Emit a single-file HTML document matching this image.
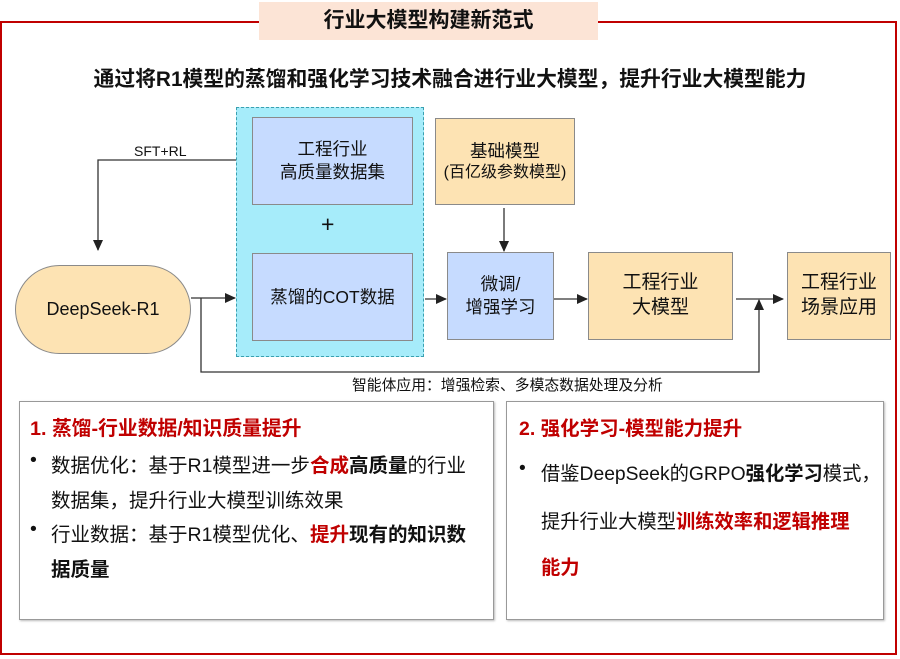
<!DOCTYPE html>
<html><head><meta charset="utf-8">
<style>
body{margin:0;width:900px;height:659px;background:#fff;position:relative;overflow:hidden;font-family:"Liberation Sans","Noto Sans CJK SC",sans-serif;color:#111}
.a{position:absolute}
.box{position:absolute;box-sizing:border-box;display:flex;align-items:center;justify-content:center;text-align:center;border:1.5px solid #8a8a8a;line-height:1.3}
.bl{background:#c6dbff}
.or{background:#fde3b3}
.t{position:absolute;white-space:nowrap}
.r{color:#c00000;font-weight:bold}
.b{font-weight:bold}
</style></head><body>
<div class="a" style="left:0;top:21px;width:897px;height:634px;border:2px solid #c00000;box-sizing:border-box"></div>
<div class="box" style="left:259px;top:2px;width:339px;height:38px;background:#fce4d6;border:none;font-size:21px;font-weight:bold">行业大模型构建新范式</div>
<div class="t" style="left:0;width:900px;text-align:center;top:62px;font-size:20.8px;font-weight:bold">通过将R1模型的蒸馏和强化学习技术融合进行业大模型，提升行业大模型能力</div>

<div class="a" style="left:236px;top:107px;width:188px;height:250px;background:#a6ecfa;border:1.5px dashed #3aa0b0;box-sizing:border-box"></div>
<div class="box bl" style="left:252px;top:117px;width:161px;height:88px;font-size:17.5px">工程行业<br>高质量数据集</div>
<div class="t" style="left:321px;top:211px;font-size:23px">+</div>
<div class="box bl" style="left:252px;top:253px;width:161px;height:88px;font-size:17.5px">蒸馏的COT数据</div>
<div class="box or" style="left:15px;top:265px;width:176px;height:89px;border-radius:45px;font-size:18px">DeepSeek-R1</div>
<div class="box or" style="left:435px;top:118px;width:140px;height:87px;font-size:16px;line-height:1.25"><div><span style="font-size:17.5px">基础模型</span><br>(百亿级参数模型)</div></div>
<div class="box bl" style="left:447px;top:252px;width:107px;height:88px;font-size:17.5px">微调/<br>增强学习</div>
<div class="box or" style="left:588px;top:252px;width:145px;height:88px;font-size:19px">工程行业<br>大模型</div>
<div class="box or" style="left:787px;top:252px;width:104px;height:88px;font-size:19px">工程行业<br>场景应用</div>

<svg class="a" style="left:0;top:0" width="900" height="659">
<defs><marker id="m" markerWidth="11" markerHeight="10" refX="10" refY="5" orient="auto" markerUnits="userSpaceOnUse"><path d="M0,0L11,5L0,10z" fill="#222"/></marker></defs>
<g stroke="#333" stroke-width="1.3" fill="none">
<polyline points="236,160 98,160 98,250" marker-end="url(#m)"/>
<line x1="191" y1="298" x2="235" y2="298" marker-end="url(#m)"/>
<polyline points="201,298 201,372 759,372 759,300" marker-end="url(#m)"/>
<line x1="425" y1="299" x2="446" y2="299" marker-end="url(#m)"/>
<line x1="504" y1="208" x2="504" y2="251" marker-end="url(#m)"/>
<line x1="554" y1="299" x2="587" y2="299" marker-end="url(#m)"/>
<line x1="736" y1="299" x2="783" y2="299" marker-end="url(#m)"/>
</g></svg>
<div class="t" style="left:134px;top:143px;font-size:14px">SFT+RL</div>
<div class="t" style="left:352px;top:374px;font-size:14.8px">智能体应用：增强检索、多模态数据处理及分析</div>

<div class="a" style="left:19px;top:401px;width:475px;height:219px;border:1.5px solid #999;box-sizing:border-box;box-shadow:1px 1px 2px #bbb"></div>
<div class="a" style="left:506px;top:401px;width:378px;height:219px;border:1.5px solid #999;box-sizing:border-box;box-shadow:1px 1px 2px #bbb"></div>
<div class="t r" style="left:30px;top:412px;font-size:19.8px">1. 蒸馏-行业数据/知识质量提升</div>
<div class="t" style="left:30px;top:449px;font-size:19.5px">•</div>
<div class="t" style="left:51px;top:449px;font-size:19.5px">数据优化：基于R1模型进一步<span class="r">合成</span><span class="b">高质量</span>的行业</div>
<div class="t" style="left:51px;top:484px;font-size:19.5px">数据集，提升行业大模型训练效果</div>
<div class="t" style="left:30px;top:518px;font-size:19.5px">•</div>
<div class="t" style="left:51px;top:518px;font-size:19.5px">行业数据：基于R1模型优化、<span class="r">提升</span><span class="b">现有的知识数</span></div>
<div class="t b" style="left:51px;top:553px;font-size:19.5px">据质量</div>

<div class="t r" style="left:519px;top:412px;font-size:19.5px">2. 强化学习-模型能力提升</div>
<div class="t" style="left:519px;top:458px;font-size:19.3px">•</div>
<div class="t" style="left:541px;top:458px;font-size:19.3px">借鉴DeepSeek的GRPO<span class="b">强化学习</span>模式，</div>
<div class="t" style="left:541px;top:506px;font-size:19.3px">提升行业大模型<span class="r">训练效率和逻辑推理</span></div>
<div class="t r" style="left:541px;top:552px;font-size:19.3px">能力</div>
</body></html>
